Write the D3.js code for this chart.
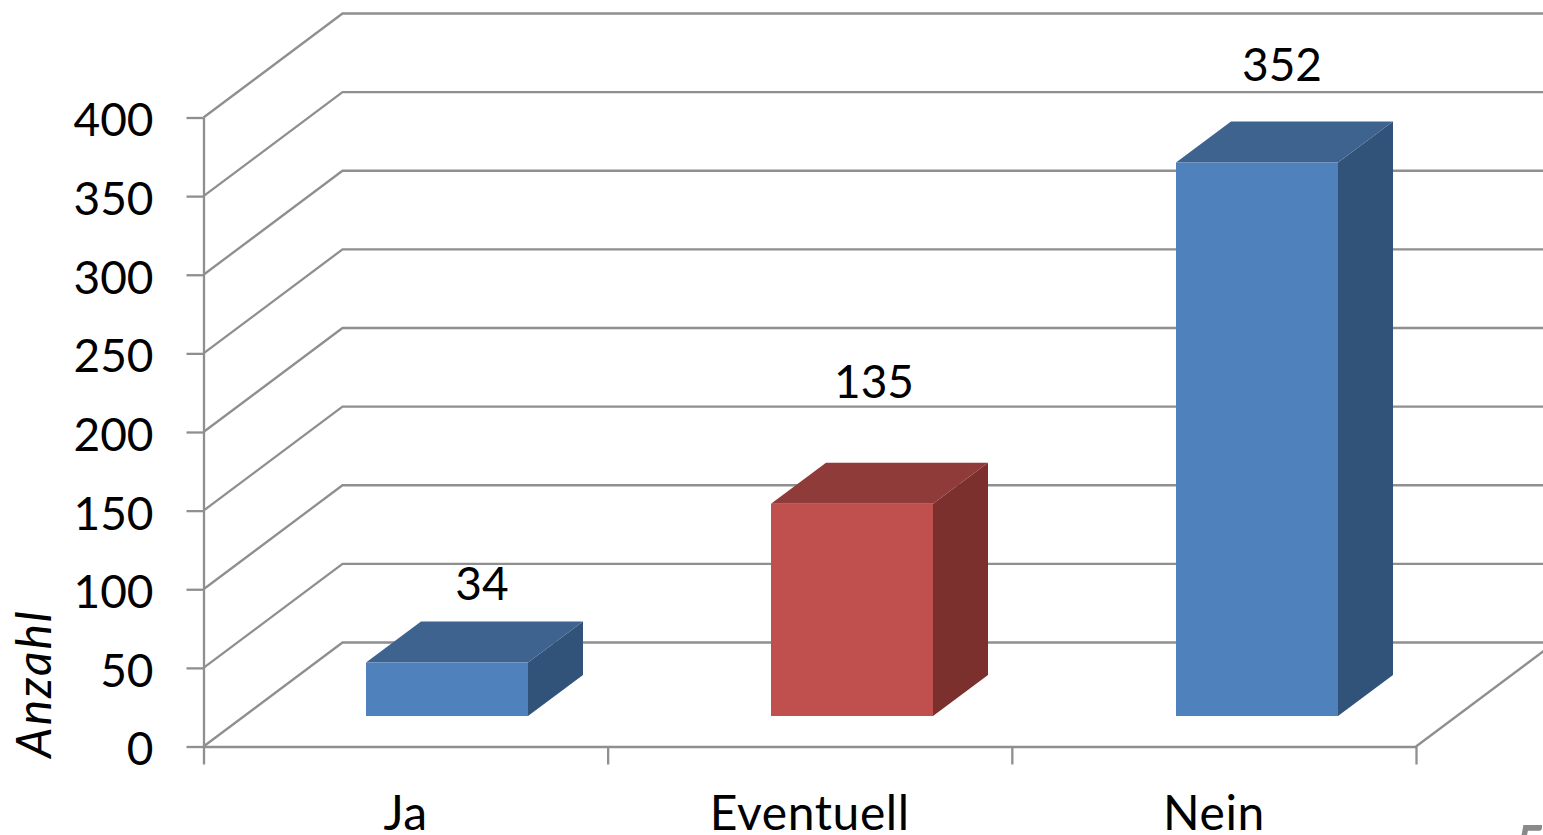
<!DOCTYPE html>
<html><head><meta charset="utf-8">
<script src="https://cdnjs.cloudflare.com/ajax/libs/d3/7.8.5/d3.min.js"></script>
<style>html,body{margin:0;padding:0;background:#fff;overflow:hidden}svg{display:block}text{font-family:Lato,Carlito,sans-serif;fill:#000}</style>
</head><body><svg id="c" width="1543" height="835"></svg>
<script>
const categories = ["Ja", "Eventuell", "Nein"];
const values = [34, 135, 352];
const faceColors = ["#4f81bd", "#c0504d", "#4f81bd"];
const topColors = ["#3e638f", "#8e3b39", "#3e638f"];
const sideColors = ["#325379", "#7b302e", "#325379"];
const yTicks = [0, 50, 100, 150, 200, 250, 300, 350, 400];
const yTitle = "Anzahl";
const pageNumber = "5";

const svg = d3.select("#c");
const W = 1543, H = 835;
const grey = "#8f8f8f";
const y = d3.scaleLinear().domain([0, 400]).range([746.5, 117.5]);
const x = d3.scaleBand().domain(categories).range([203.5, 1416]);
const xBar = d3.scaleBand().domain(categories).range([366, 1581]);
const wall = {dx: 139, dy: -104};
const bar = {w: 162, lift: -30.5, dx: 55, dy: -41};
const labelShift = [{dx: 116, dy: -63}, {dx: 103, dy: -106}, {dx: 106, dy: -81}];

const clip = svg.append("defs").append("clipPath").attr("id", "pg");
clip.append("rect").attr("width", W).attr("height", H);
const g = svg.append("g").attr("clip-path", "url(#pg)");
const line = d3.line();

// side and back walls
const walls = g.append("g").attr("fill", "none").attr("stroke", grey).attr("stroke-width", 2.3);
yTicks.forEach(t => {
  const y0 = y(t), x0 = x.range()[0];
  walls.append("path").attr("d", line([[x0, y0], [x0 + wall.dx, y0 + wall.dy], [W + 5, y0 + wall.dy]]));
});
// floor right edge
walls.append("path").attr("d", line([[x.range()[1], y(0)], [x.range()[1] + wall.dx, y(0) + wall.dy]]));

// axes
const yAxis = g.append("g").attr("transform", `translate(${x.range()[0]},0)`)
  .call(d3.axisLeft(y).tickValues(yTicks).tickSize(17).tickPadding(33).tickSizeOuter(0));
const xEdge = d3.scalePoint().domain(d3.range(categories.length + 1)).range(x.range());
const xTicks = g.append("g").attr("transform", `translate(0,${y(0)})`)
  .call(d3.axisBottom(xEdge).tickSize(18).tickFormat("").tickSizeOuter(0));
const xLabels = g.append("g").attr("transform", `translate(0,${y(0)})`)
  .call(d3.axisBottom(x).tickSize(0).tickPadding(49).tickSizeOuter(0));
xLabels.select(".domain").remove();
[yAxis, xTicks].forEach(a => a.selectAll("path,line").attr("stroke", grey).attr("stroke-width", 2.3));
yAxis.selectAll("text").attr("font-size", 46).attr("font-family", "Lato").attr("fill", "#000").attr("dy", "0.4em");
xLabels.selectAll("text").attr("font-size", 48).attr("font-family", "Lato").attr("fill", "#000").attr("letter-spacing", 0.6);

// bars
const bars = g.selectAll("g.bar").data(categories).join("g").attr("class", "bar");
bars.each(function (c, i) {
  const s = d3.select(this);
  const x0 = xBar(c), x1 = x0 + bar.w;
  const yb = y(0) + bar.lift, yt = yb - (y(0) - y(values[i]));
  s.append("path").attr("fill", sideColors[i]).attr("d", line([[x1, yt], [x1 + bar.dx, yt + bar.dy], [x1 + bar.dx, yb + bar.dy], [x1, yb]]) + "Z");
  s.append("path").attr("fill", topColors[i]).attr("d", line([[x0, yt], [x0 + bar.dx, yt + bar.dy], [x1 + bar.dx, yt + bar.dy], [x1, yt]]) + "Z");
  s.append("rect").attr("x", x0).attr("y", yt).attr("width", bar.w).attr("height", yb - yt).attr("fill", faceColors[i]);
  s.append("text").attr("x", x0 + labelShift[i].dx).attr("y", yt + labelShift[i].dy)
    .attr("text-anchor", "middle").attr("font-size", 46).text(values[i]);
});

// axis title
g.append("text").attr("transform", "translate(51,683.5) rotate(-90)").attr("text-anchor", "middle")
  .attr("font-size", 48).attr("letter-spacing", 2).attr("font-style", "italic").text(yTitle);

// clipped page number
g.append("text").attr("x", 1516).attr("y", 862).attr("font-size", 52).attr("font-weight", 700)
  .style("fill", "#8a8a8a").text(pageNumber);
</script></body></html>
